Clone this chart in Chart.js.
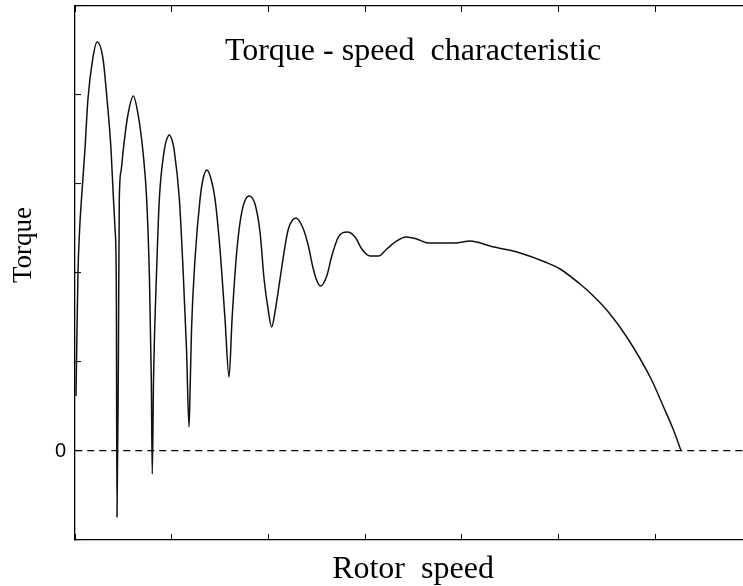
<!DOCTYPE html>
<html>
<head>
<meta charset="utf-8">
<script src="https://cdn.jsdelivr.net/npm/chart.js@4.4.1/dist/chart.umd.min.js"></script>
<style>
  html, body { margin: 0; padding: 0; background: #fff; overflow: hidden; }
  canvas { display: block; }
</style>
</head>
<body>
<canvas id="torque-chart" width="760" height="586"></canvas>
<script>
// values (x: rotor speed, y: torque)
const speed = [0.010, 0.021, 0.031, 0.047, 0.067, 0.103, 0.134, 0.183, 0.228, 0.290,
    0.331, 0.372, 0.396, 0.414, 0.427, 0.434, 0.448, 0.458, 0.476, 0.500, 0.545,
    0.603, 0.655, 0.700, 0.741, 0.770, 0.789, 0.799, 0.812, 0.848, 0.872,
    0.925, 0.946, 0.975, 1.003, 1.024, 1.079, 1.117, 1.153, 1.179, 1.189,
    1.205, 1.241, 1.293, 1.324, 1.362, 1.401, 1.448, 1.499, 1.551, 1.593,
    1.624, 1.675, 1.727, 1.799, 1.861, 1.913, 1.955, 1.996, 2.034, 2.068,
    2.120, 2.172, 2.206, 2.285, 2.361, 2.413, 2.464, 2.506, 2.541, 2.603,
    2.655, 2.723, 2.816, 2.896, 2.965, 3.051, 3.137, 3.223, 3.327, 3.423,
    3.534, 3.654, 3.930, 4.085, 4.154, 4.292, 4.602, 4.860, 5.016, 5.222,
    5.360, 5.515, 5.705, 5.957, 6.081, 6.184, 6.267];
const torque = [0.618, 1.371, 2.011, 2.472, 2.831, 3.393, 3.955, 4.404, 4.596, 4.404,
    3.955, 3.393, 2.865, 2.494, 1.899, -0.742, 0.921, 2.831, 3.146, 3.393, 3.764,
    3.989, 3.764, 3.393, 2.831, 1.933, 0.809, -0.258, 0.809, 2.157, 2.831,
    3.393, 3.494, 3.551, 3.494, 3.393, 2.831, 2.045, 1.146, 0.270, 0.640,
    1.371, 2.157, 2.831, 3.056, 3.157, 3.079, 2.831, 2.270, 1.483, 0.831,
    1.483, 2.270, 2.697, 2.865, 2.775, 2.461, 1.933, 1.596, 1.393, 1.562,
    1.933, 2.303, 2.494, 2.618, 2.494, 2.303, 2.045, 1.899, 1.854, 1.966,
    2.191, 2.404, 2.461, 2.404, 2.270, 2.191, 2.191, 2.270, 2.360, 2.404,
    2.382, 2.337, 2.337, 2.360, 2.348, 2.303, 2.225, 2.124, 2.045, 1.876,
    1.742, 1.562, 1.281, 0.809, 0.506, 0.247, 0];

const xRange = [0, 7];
const yRange = [-1, 5];
const yTickLabels = { 0: '0' }; // only the zero tick carries a label

const chartTitle = 'Torque - speed  characteristic';
const xTitle = 'Rotor  speed';
const yTitle = 'Torque';

const serif = '"Liberation Serif", "Times New Roman", serif';

// inward tick marks, no grid except the dashed zero line
function axis(position, range, size) {
    return {
        type: 'linear',
        position: position,
        min: range[0],
        max: range[1],
        ticks: { stepSize: 1, display: false },
        grid: {
            drawOnChartArea: false,
            tickLength: -6,
            tickColor: '#000',
            tickWidth: 1
        },
        border: { display: true, color: '#000', width: 1.3 },
        afterFit: s => {
            if (s.isHorizontal()) {
                s.height = size;
                s.paddingLeft = 0;
                s.paddingRight = 0;
            } else {
                s.width = size;
                s.paddingTop = 0;
                s.paddingBottom = 0;
            }
        }
    };
}

const yAxis = axis('left', yRange, 75);
yAxis.ticks = {
    stepSize: 1,
    padding: 15,
    color: '#000',
    font: { family: '"Liberation Sans", Arial, sans-serif', size: 20 },
    callback: v => yTickLabels[v] || ''
};
yAxis.grid.drawOnChartArea = true;
yAxis.grid.color = c => (c.tick && c.tick.value === 0) ? '#000' : 'rgba(0,0,0,0)';
yAxis.grid.lineWidth = 1.2;
yAxis.border.dash = [7, 5];

const textLabels = {
    id: 'textLabels',
    afterDraw(chart) {
        const ctx = chart.ctx;
        ctx.save();
        ctx.fillStyle = '#000';
        ctx.textAlign = 'center';
        ctx.textBaseline = 'alphabetic';
        ctx.font = '32px ' + serif;
        ctx.fillText(chartTitle, 413, 60);
        ctx.fillText(xTitle, 413, 578);
        ctx.translate(31, 245);
        ctx.rotate(-Math.PI / 2);
        ctx.font = '27px ' + serif;
        ctx.fillText(yTitle, 0, 0);
        ctx.restore();
    }
};

new Chart(document.getElementById('torque-chart'), {
    type: 'line',
    data: {
        datasets: [{
            data: speed.map((s, i) => ({ x: s, y: torque[i] })),
            borderColor: '#111',
            borderWidth: 1.5,
            pointRadius: 0,
            fill: false,
            cubicInterpolationMode: 'monotone'
        }]
    },
    options: {
        responsive: false,
        animation: false,
        devicePixelRatio: 1,
        layout: { padding: 0 },
        plugins: { legend: { display: false }, tooltip: { enabled: false }, title: { display: false } },
        scales: {
            x: axis('bottom', xRange, 46),
            xTop: axis('top', xRange, 6),
            y: yAxis,
            yRight: axis('right', yRange, 8)
        }
    },
    plugins: [textLabels]
});
</script>
</body>
</html>
